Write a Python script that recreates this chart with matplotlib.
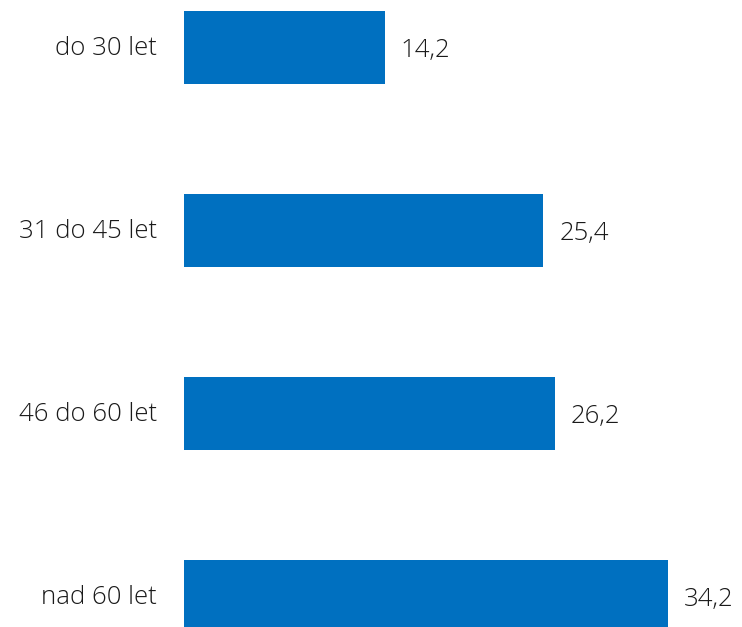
import matplotlib
matplotlib.use("Agg")
import matplotlib.pyplot as plt

categories = ["do 30 let", "31 do 45 let", "46 do 60 let", "nad 60 let"]
values = [14.2, 25.4, 26.2, 34.2]
value_labels = ["14,2", "25,4", "26,2", "34,2"]

W, H = 742, 627
fig = plt.figure(figsize=(W / 100, H / 100), dpi=100)
left_px = 184
px_per_unit = 14.15
xmax = 38
ax = fig.add_axes([left_px / W, 0, xmax * px_per_unit / W, 1])

ypos = list(range(len(categories)))
ax.barh(ypos, values, height=0.4, color="#0070C0")
ax.set_xlim(0, xmax)
ax.set_ylim((H - 47.5) / 183, -47.5 / 183)
ax.axis("off")

font = dict(family=["Open Sans", "DejaVu Sans"], fontweight="light", fontsize=18.5, color="#1a1a1a")
for y, cat, v, lab in zip(ypos, categories, values, value_labels):
    ax.annotate(cat, xy=(0, y), xytext=(-27, -1), textcoords="offset pixels",
                ha="right", va="center", **font)
    ax.annotate(lab, xy=(v, y), xytext=(16, -3), textcoords="offset pixels",
                ha="left", va="center", **font)

fig.savefig("out.png", dpi=100)
